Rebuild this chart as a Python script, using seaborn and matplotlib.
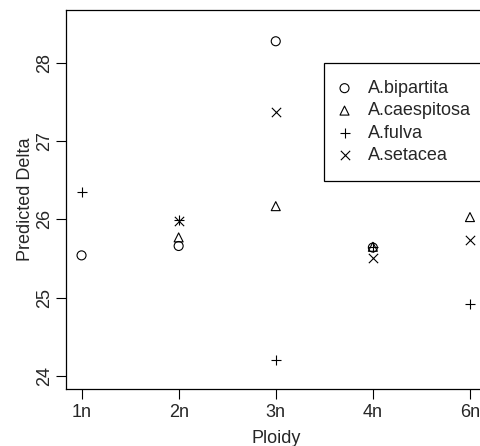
import matplotlib
matplotlib.use('Agg')
import matplotlib.pyplot as plt
import seaborn as sns
import numpy as np
import pandas as pd

# data
ploidy = ['1n', '2n', '3n', '4n', '6n']
bipartita = [25.54, 25.66, 28.28, 25.64, np.nan]
caespitosa = [np.nan, 25.77, 26.17, 25.65, 26.03]
fulva = [26.35, 25.99, 24.20, 25.65, 24.92]
setacea = [np.nan, 25.98, 27.38, 25.51, 25.74]

species = ['A.bipartita', 'A.caespitosa', 'A.fulva', 'A.setacea']
series = [bipartita, caespitosa, fulva, setacea]
markers = ['o', '^', '+', 'x']

rows = []
for sp, vals in zip(species, series):
    for i, v in enumerate(vals):
        rows.append({'Ploidy': ploidy[i], 'pos': i + 1, 'Delta': v, 'Species': sp})
df = pd.DataFrame(rows).dropna()

sns.set_style('ticks')
plt.rcParams['font.family'] = ['Liberation Sans', 'DejaVu Sans']
FS = 13

fig = plt.figure(figsize=(4.8, 4.46), dpi=100)
ax = fig.add_axes([66 / 480, 57 / 446, 419.5 / 480, 379 / 446])

for sp, mk in zip(species, markers):
    sub = df[df['Species'] == sp]
    if mk in ('o', '^'):
        sns.scatterplot(data=sub, x='pos', y='Delta', marker=mk, s=42,
                        facecolors='none', edgecolor='black', linewidth=0.8,
                        ax=ax, label=sp)
    else:
        sns.scatterplot(data=sub, x='pos', y='Delta', marker=mk, s=45,
                        color='black', linewidth=0.8, ax=ax, label=sp)

ax.set_xlim(0.84, 5.16)
ax.set_ylim(23.83, 28.68)
ax.set_xticks(range(1, 6))
ax.set_xticklabels(ploidy)
ax.set_yticks([24, 25, 26, 27, 28])
ax.set_yticklabels(['24', '25', '26', '27', '28'], rotation=90, va='center')
ax.tick_params(axis='both', length=7, width=0.8, labelsize=FS, color='black', pad=4)
ax.tick_params(axis='y', pad=2)
ax.set_xlabel('Ploidy', fontsize=FS, labelpad=6)
ax.set_ylabel('Predicted Delta', fontsize=FS, labelpad=2)
for sp_ in ax.spines.values():
    sp_.set_visible(True)
    sp_.set_color('black')
    sp_.set_linewidth(0.9)

leg = ax.legend(loc='upper left', bbox_to_anchor=(324.3 / 480, 1 - 63.3 / 446),
                bbox_transform=fig.transFigure, borderaxespad=0, fancybox=False,
                edgecolor='black', framealpha=1, fontsize=FS, borderpad=0.92,
                labelspacing=0.3, handlelength=0.4, handletextpad=1.1)
leg.get_frame().set_linewidth(0.9)

fig.savefig('out.png', dpi=100)
